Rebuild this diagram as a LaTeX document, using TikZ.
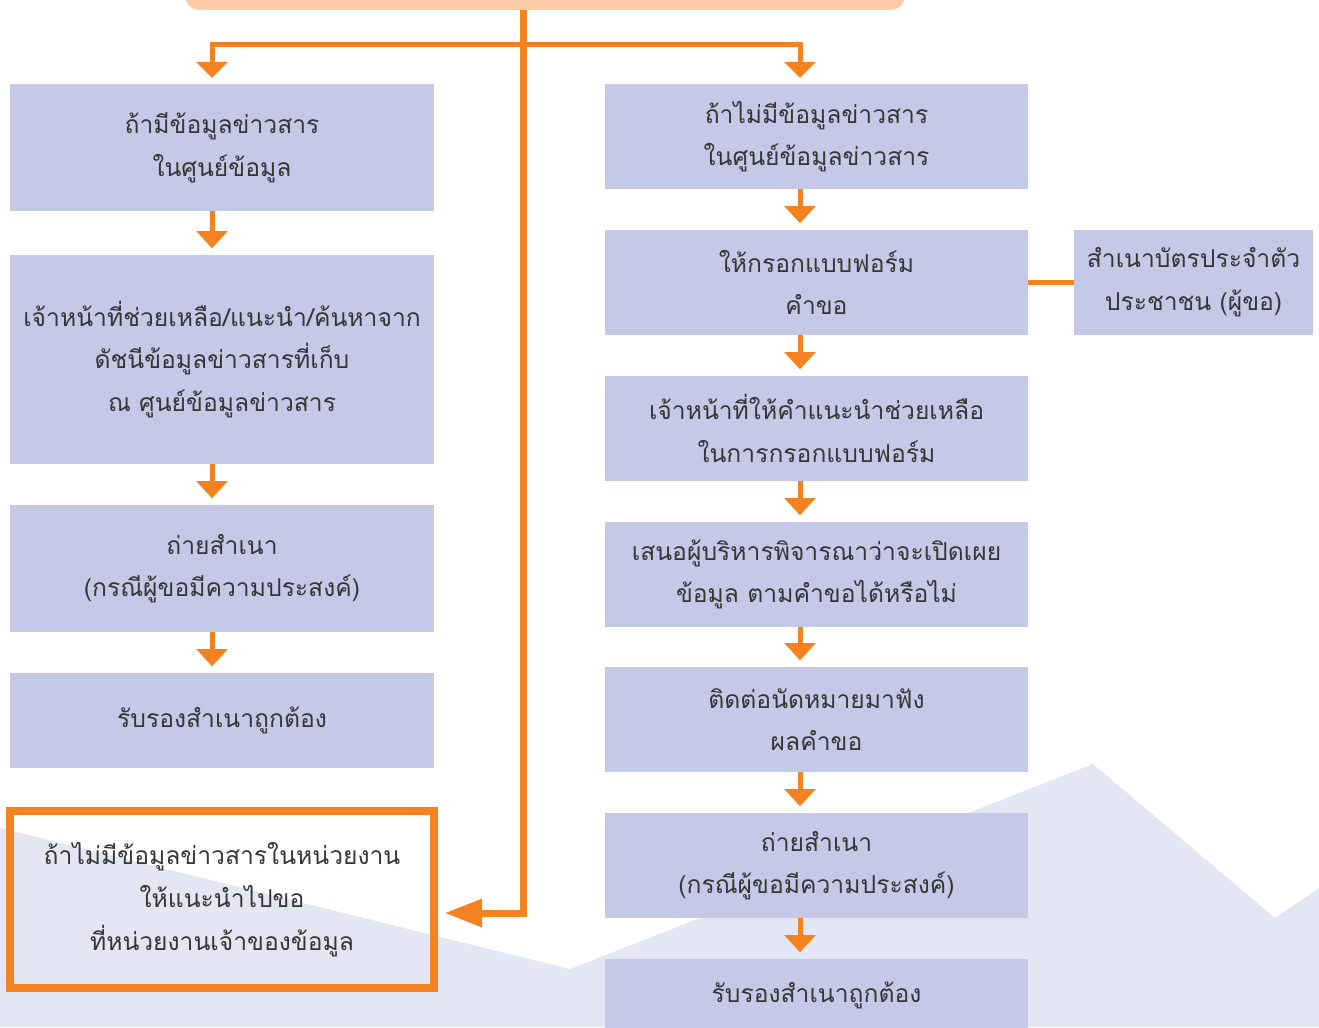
\documentclass[tikz,border=0pt]{standalone}
\usepackage{fontspec}
\newfontfamily\thaifont[Script=Thai]{Loma}
\usetikzlibrary{arrows.meta}
\definecolor{orng}{HTML}{F58220}
\definecolor{boxfill}{HTML}{C5C9E7}
\definecolor{mount}{HTML}{E4E6F3}
\definecolor{peach}{HTML}{FDCBA5}
\definecolor{txt}{HTML}{363636}
\newcommand\pbox[7][]{\node[stepbox,#1, minimum width={(#5-#3)*0.75pt}, minimum height={(#6-#4)*0.75pt}] (#2) at ({(#3+#5)/2},{(#4+#6)/2}) {#7};}
\begin{document}
\begin{tikzpicture}[x=0.75pt,y=-0.75pt,
  stepbox/.style={fill=boxfill, inner sep=0pt, outer sep=0pt, align=center, font=\thaifont\fontsize{18.5}{32}\selectfont, text=txt},
  flow/.style={draw=orng, line width=3.75pt, -{Triangle[width=23pt,length=13pt]}, shorten >=5pt},
  branch/.style={draw=orng, line width=3.75pt, -{Triangle[width=23pt,length=12pt]}, shorten >=4.5pt},
  trunk/.style={draw=orng, line width=5.25pt, -{Triangle[width=20pt,length=28pt]}, shorten >=8pt},
  link/.style={draw=orng, line width=3.5pt}]
\useasboundingbox (0,0) rectangle (1319,1027);
\clip (0,0) rectangle (1319,1027);
% background
\fill[mount] (0,828) -- (570,969) -- (1093,764) -- (1275,918) -- (1319,888) -- (1319,1027) -- (0,1027) -- cycle;
% top box
\node[fill=peach, rounded corners=11pt, inner sep=0pt, outer sep=0pt, minimum width={720*0.75pt}, minimum height={60*0.75pt}] (top) at (545,-20) {};
% left column
\pbox{L1}{10}{84}{434}{211}{ถ้ามีข้อมูลข่าวสาร\\ในศูนย์ข้อมูล}
\pbox{L2}{10}{255}{434}{464}{เจ้าหน้าที่ช่วยเหลือ/แนะนำ/ค้นหาจาก\\ดัชนีข้อมูลข่าวสารที่เก็บ\\ณ ศูนย์ข้อมูลข่าวสาร}
\pbox{L3}{10}{505}{434}{632}{ถ่ายสำเนา\\(กรณีผู้ขอมีความประสงค์)}
\pbox{L4}{10}{673}{434}{768}{รับรองสำเนาถูกต้อง}
\pbox[fill=none, draw=orng, line width=6.5pt]{L5}{10}{811}{434}{988}{ถ้าไม่มีข้อมูลข่าวสารในหน่วยงาน\\ให้แนะนำไปขอ\\ที่หน่วยงานเจ้าของข้อมูล}
% right column
\pbox{R1}{605}{84}{1028}{189}{ถ้าไม่มีข้อมูลข่าวสาร\\ในศูนย์ข้อมูลข่าวสาร}
\pbox{R2}{605}{230}{1028}{335}{ให้กรอกแบบฟอร์ม\\คำขอ}
\pbox{R3}{605}{376}{1028}{481}{เจ้าหน้าที่ให้คำแนะนำช่วยเหลือ\\ในการกรอกแบบฟอร์ม}
\pbox{R4}{605}{522}{1028}{627}{เสนอผู้บริหารพิจารณาว่าจะเปิดเผย\\ข้อมูล ตามคำขอได้หรือไม่}
\pbox{R5}{605}{667}{1028}{772}{ติดต่อนัดหมายมาฟัง\\ผลคำขอ}
\pbox{R6}{605}{813}{1028}{918}{ถ่ายสำเนา\\(กรณีผู้ขอมีความประสงค์)}
\pbox{R7}{605}{959}{1028}{1031}{รับรองสำเนาถูกต้อง}
\node[stepbox, minimum width={239*0.75pt}, minimum height={105*0.75pt}, anchor=center] (S) at ({(1074+1313)/2},{(230+335)/2}) {สำเนาบัตรประจำตัว\\ประชาชน (ผู้ขอ)};
% guide coordinates
\coordinate (ax) at (212,0);
\coordinate (bx) at (800,0);
\coordinate (tk) at (523,45);
\coordinate (ty) at (0,913);
% connectors
\draw[trunk] (top.south -| tk) -- (tk |- ty) -- (L5.east |- ty);
\draw[branch] (tk) -| (ax |- L1.north);
\draw[branch] (tk) -| (bx |- R1.north);
\draw[flow] (ax |- L1.south) -- (ax |- L2.north);
\draw[flow] (ax |- L2.south) -- (ax |- L3.north);
\draw[flow] (ax |- L3.south) -- (ax |- L4.north);
\draw[flow] (bx |- R1.south) -- (bx |- R2.north);
\draw[flow] (bx |- R2.south) -- (bx |- R3.north);
\draw[flow] (bx |- R3.south) -- (bx |- R4.north);
\draw[flow] (bx |- R4.south) -- (bx |- R5.north);
\draw[flow] (bx |- R5.south) -- (bx |- R6.north);
\draw[flow] (bx |- R6.south) -- (bx |- R7.north);
\draw[link] (R2.east) -- (S.west);
\end{tikzpicture}
\end{document}
